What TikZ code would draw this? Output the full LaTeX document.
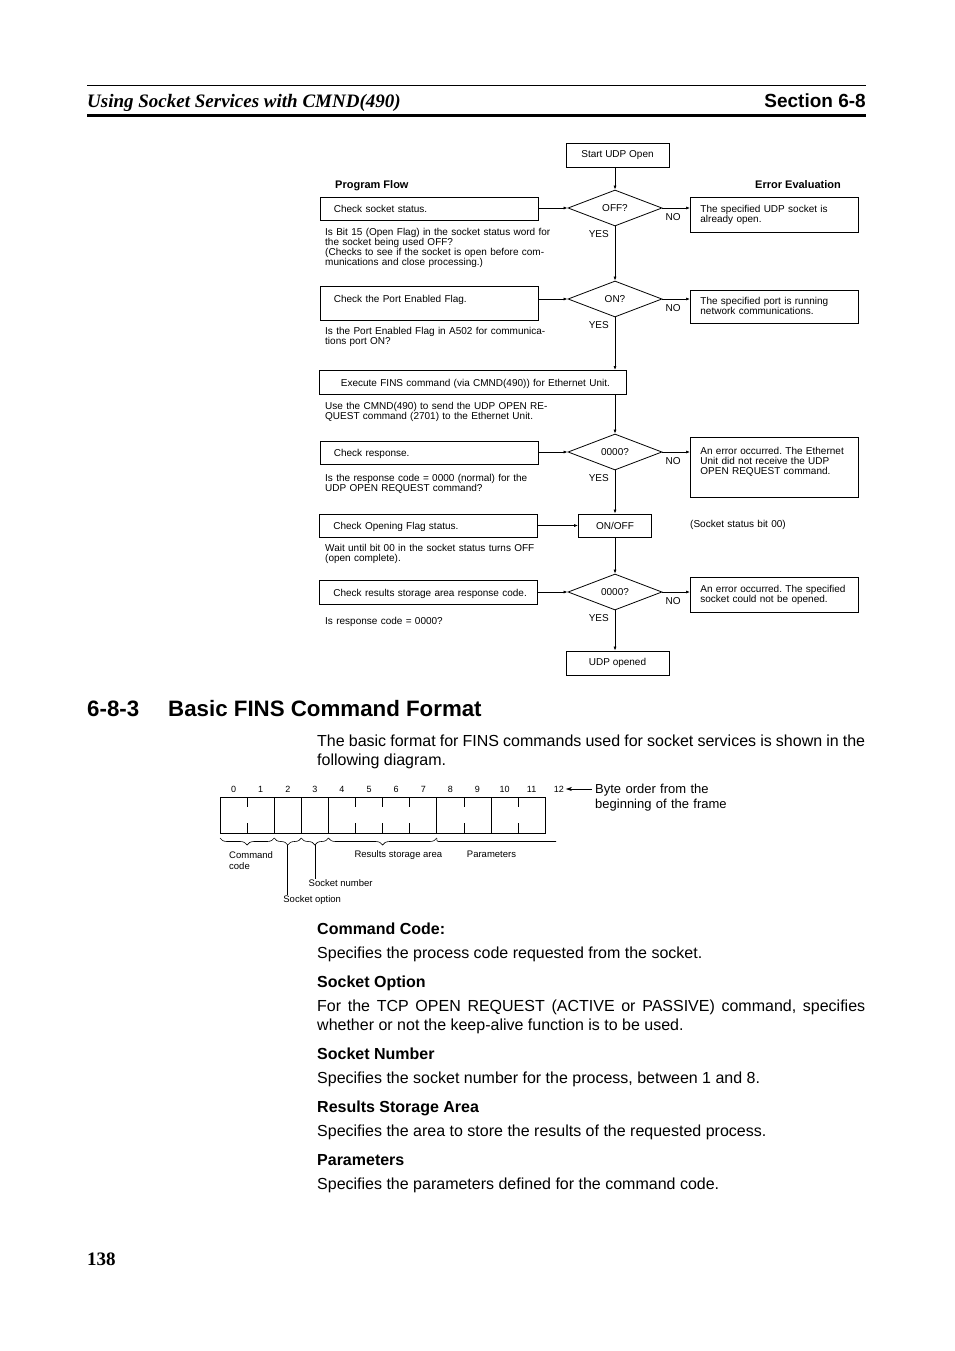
\documentclass[tikz,border=0pt]{standalone}
\usepackage{fontspec}
\setmainfont{Liberation Sans}
\newfontfamily\serifhead{Liberation Serif}
\usetikzlibrary{arrows.meta,positioning,shapes.geometric,decorations.pathreplacing}
\hyphenpenalty=10000
\exhyphenpenalty=10000
\frenchspacing
\newcommand{\flowfont}{\fontsize{10}{10}\selectfont}
\newcommand{\bytefont}{\fontsize{9.5}{11}\selectfont}
\newcommand{\bodyfont}{\fontsize{16}{19}\selectfont}
\tikzstyle{pbox}=[rectangle,draw,line width=0.8pt,anchor=north west,inner xsep=9pt,inner ysep=0pt,
                  text width=200pt,align=left,text height=14.6pt,text depth=8.4pt,font=\flowfont,
                  execute at begin node={\hspace*{5pt}}]
\tikzstyle{ebox}=[rectangle,draw,line width=0.8pt,anchor=north west,inner xsep=10pt,inner ysep=0pt,
                  text width=148pt,align=left,text height=14.6pt,text depth=20.4pt,font=\flowfont]
\tikzstyle{decide}=[diamond,draw,line width=0.8pt,minimum width=94pt,minimum height=36pt,
                  inner sep=0pt,aspect=2.6,font=\flowfont]
\tikzstyle{term}=[rectangle,draw,line width=0.8pt,minimum width=103pt,minimum height=24pt,
                  inner sep=0pt,font=\flowfont]
\tikzstyle{note}=[anchor=base west,inner sep=0pt,text width=260pt,align=left,font=\flowfont]
\tikzstyle{yn}=[inner sep=0pt,font=\flowfont]
\tikzstyle{arrow}=[-{Latex[length=4pt,width=3pt]},line width=0.7pt]
\tikzstyle{body}=[anchor=base west,inner sep=0pt,text width=548pt,align=justify,font=\bodyfont]
\tikzstyle{bodyhead}=[anchor=base west,inner sep=0pt,font=\bodyfont\bfseries]
\tikzstyle{bytelbl}=[inner sep=0pt,font=\bytefont]
\tikzstyle{brace}=[decorate,decoration={brace,mirror,amplitude=7pt},line width=0.6pt]

\begin{document}
\begin{tikzpicture}[x=1pt,y=-1pt,node distance=4pt and 4pt]
\useasboundingbox[fill=white] (0,0) rectangle (954,1351);
% running head
\draw[line width=0.8pt] (87,85) -- (866,85);
\node[anchor=base west,inner sep=0pt,font=\fontsize{19}{19}\serifhead\bfseries\itshape] (runhead) at (87,107.5) {Using Socket Services with CMND(490)};
\node[anchor=base east,inner sep=0pt,font=\fontsize{19}{19}\selectfont\bfseries] (sechead) at (866,107.5) {Section 6-8};
\draw[line width=3.5pt] (87,115.5) -- (866,115.5);

% flowchart
\node[term] (start) at (617.5,155) {Start UDP Open};
\node[anchor=base west,inner sep=0pt,font=\fontsize{11}{11}\selectfont\bfseries] (pflow) at (335,189) {Program Flow};
\node[anchor=base east,inner sep=0pt,font=\fontsize{11}{11}\selectfont\bfseries] (eeval) at (841,189) {Error Evaluation};

\node[pbox] (chk1) at (319.5,197) {Check socket status.};
\node[decide] (d1) at (615,208) {OFF?};
\node[ebox] (err1) at (690,197) {The specified UDP socket is\\already open.};
\node[note] (n1) at (325,235.6) {Is Bit 15 (Open Flag) in the socket status word for\\the socket being used OFF?\\(Checks to see if the socket is open before com-\\munications and close processing.)};

\node[pbox,text height=15.6pt,text depth=18.4pt] (chk2) at (319.5,286) {Check the Port Enabled Flag.};
\node[decide] (d2) at (615,299) {ON?};
\node[ebox,text height=13.6pt,text depth=19.4pt] (err2) at (690,290) {The specified port is running\\network communications.};
\node[note] (n2) at (325,334.6) {Is the Port Enabled Flag in A502 for communica-\\tions port ON?};

\node[pbox,text width=279pt,inner xsep=14pt,align=center,text height=15.6pt,execute at begin node={}] (exec) at (319,370) {Execute FINS command (via CMND(490)) for Ethernet Unit.};
\node[note] (n3) at (325,409.6) {Use the CMND(490) to send the UDP OPEN RE-\\QUEST command (2701) to the Ethernet Unit.};

\node[pbox] (chk3) at (319.5,441) {Check response.};
\node[decide] (d3) at (615,452) {0000?};
\node[ebox,text height=16.6pt,text depth=43.4pt] (err3) at (690,437) {An error occurred. The Ethernet\\Unit did not receive the UDP\\OPEN REQUEST command.};
\node[note] (n4) at (325,481.6) {Is the response code = 0000 (normal) for the\\UDP OPEN REQUEST command?};

\node[pbox] (chk4) at (319,514) {Check Opening Flag status.};
\node[term,minimum width=73pt,minimum height=23pt] (onoff) at (615,525.5) {ON/OFF};
\node[note] (sbit) at (690,527.6) {(Socket status bit 00)};
\node[note] (n5) at (325,551.6) {Wait until bit 00 in the socket status turns OFF\\(open complete).};

\node[pbox,text height=15.6pt] (chk5) at (319,580) {Check results storage area response code.};
\node[decide] (d4) at (615,592) {0000?};
\node[ebox] (err4) at (690,577) {An error occurred. The specified\\socket could not be opened.};
\node[note] (n6) at (325,624.6) {Is response code = 0000?};

\node[term] (done) at (617.5,663) {UDP opened};

% yes / no labels
\foreach \d in {d1,d2,d3,d4} {
  \node[yn,below right=5pt and 3pt of \d.east] {NO};
  \node[yn,below left=3.5pt and 6pt of \d.south] {YES};
}

% connectors
\draw[arrow] (start.south -| d1.north) -- (d1.north);
\draw[arrow] (chk1.east |- d1.west) -- (d1.west);
\draw[arrow] (d1.east) -- (err1.west |- d1.east);
\draw[arrow] (d1.south) -- (d2.north);
\draw[arrow] (chk2.east |- d2.west) -- (d2.west);
\draw[arrow] (d2.east) -- (err2.west |- d2.east);
\draw[arrow] (d2.south) -- (d2.south |- exec.north);
\draw[arrow] (d2.south |- exec.south) -- (d3.north);
\draw[arrow] (chk3.east |- d3.west) -- (d3.west);
\draw[arrow] (d3.east) -- (err3.west |- d3.east);
\draw[arrow] (d3.south) -- (onoff.north);
\draw[arrow] (chk4.east |- onoff.west) -- (onoff.west);
\draw[arrow] (onoff.south) -- (d4.north);
\draw[arrow] (chk5.east |- d4.west) -- (d4.west);
\draw[arrow] (d4.east) -- (err4.west |- d4.east);
\draw[arrow] (d4.south) -- (d4.south |- done.north);

% section 6-8-3
\node[anchor=base west,inner sep=0pt,font=\fontsize{22.3}{22.3}\selectfont\bfseries] (secnum) at (87,716) {6-8-3};
\node[anchor=base west,inner sep=0pt,font=\fontsize{22.3}{22.3}\selectfont\bfseries] (sectitle) at (168,716) {Basic FINS Command Format};
\node[body] (intro) at (317,746.2) {The basic format for FINS commands used for socket services is shown in the following diagram.};

% frame layout
\def\bw{27.1}
\draw[line width=0.8pt] (220,797) rectangle ({220+12*\bw},833);
\foreach \k in {2,3,4,8,10}
  \draw[line width=0.8pt] ({220+\bw*\k},797) -- ({220+\bw*\k},833);
\foreach \k in {1,5,6,7,9,11} {
  \draw[line width=0.8pt] ({220+\bw*\k},797) -- ++(0,10);
  \draw[line width=0.8pt] ({220+\bw*\k},833) -- ++(0,-10);
}
\foreach \k in {0,...,12}
  \node[bytelbl,font=\fontsize{9}{9}\selectfont] (b\k) at ({220+\bw*(\k+0.5)},789) {\k};
\node[anchor=base west,inner sep=0pt,text width=150pt,align=left,font=\fontsize{13}{15}\selectfont] (order) at (595,793) {Byte order from the\\beginning of the frame};
\draw[-{Stealth[length=6pt,width=4pt]},line width=0.6pt] ([xshift=-3pt]order.west |- b12.east) -- ([xshift=2pt]b12.east);

% fields
\draw[brace] (220,838) -- ({220+2*\bw},838);
\draw[brace] ({220+2*\bw},838) -- ({220+3*\bw},838);
\draw[brace] ({220+3*\bw},838) -- ({220+4*\bw},838);
\draw[brace] ({220+4*\bw},838) -- ({220+8*\bw},838);
\draw[line width=0.6pt] ({220+8*\bw},838) .. controls ({220+8*\bw},841.5) .. ({224+8*\bw},841.5) -- (556,841.5);
\coordinate (tipopt) at ({220+2.5*\bw},845);
\coordinate (tipnum) at ({220+3.5*\bw},845);
\node[bytelbl,anchor=base west,text width=50pt,align=left] (lcmd) at (229,858.4) {Command\\code};
\node[bytelbl,anchor=base] (lres) at (398.4,857) {Results storage area};
\node[bytelbl,anchor=base] (lpar) at (491.5,857) {Parameters};
\node[bytelbl,anchor=base west] (lnum) at (308.5,886.4) {Socket number};
\node[bytelbl,anchor=base west] (lopt) at (283.2,902.4) {Socket option};
\draw[line width=0.6pt] (tipnum) -- (tipnum |- lnum.north);
\draw[line width=0.6pt] (tipopt) -- (tipopt |- lopt.north);

% field descriptions
\node[bodyhead] (hcode) at (317,934.2) {Command Code:};
\node[body] (tcode) at (317,958.2) {Specifies the process code requested from the socket.};
\node[bodyhead] (hopt) at (317,987.2) {Socket Option};
\node[body] (topt) at (317,1011.2) {For the TCP OPEN REQUEST (ACTIVE or PASSIVE) command, specifies whether or not the keep-alive function is to be used.};
\node[bodyhead] (hnum) at (317,1059.2) {Socket Number};
\node[body] (tnum) at (317,1083.2) {Specifies the socket number for the process, between 1 and 8.};
\node[bodyhead] (hres) at (317,1112.2) {Results Storage Area};
\node[body] (tres) at (317,1136.2) {Specifies the area to store the results of the requested process.};
\node[bodyhead] (hpar) at (317,1165.2) {Parameters};
\node[body] (tpar) at (317,1189.2) {Specifies the parameters defined for the command code.};

% page number
\node[anchor=base west,inner sep=0pt,font=\fontsize{19}{19}\serifhead\bfseries] (pagenum) at (87,1265.5) {138};
\end{tikzpicture}
\end{document}
